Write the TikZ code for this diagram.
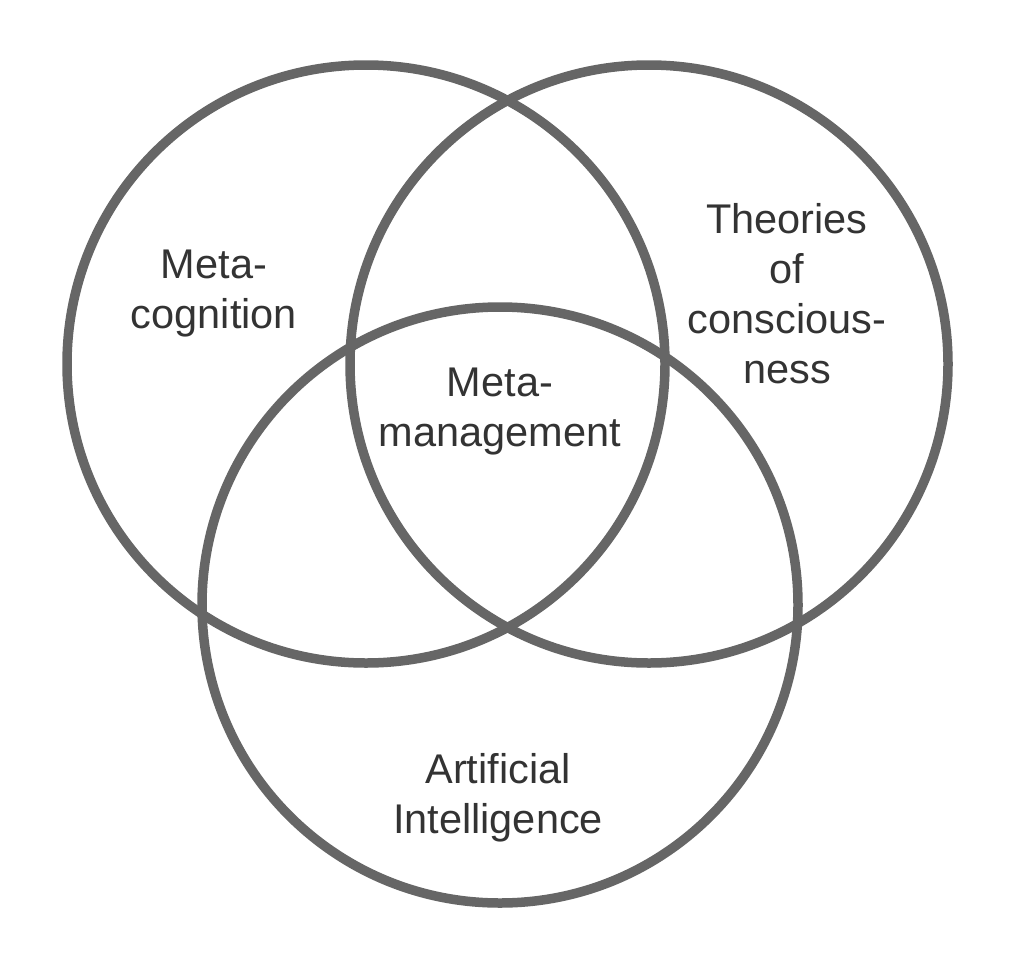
\documentclass[tikz,border=0pt]{standalone}
\usepackage{fontspec}
\setmainfont{Liberation Sans}
\definecolor{ringgray}{HTML}{666666}
\definecolor{textgray}{HTML}{333333}
\tikzset{
  ring/.style={draw=ringgray, line width=9.5pt},
  label/.style={align=center, text=textgray, font=\fontsize{41.5}{50}\selectfont, inner sep=0pt}
}
\begin{document}
\begin{tikzpicture}[x=1pt,y=-1pt]
\useasboundingbox (0,0) rectangle (1014,969);
\node[ring, circle, minimum size=598pt, inner sep=0pt] (left) at (366,364) {};
\node[ring, circle, minimum size=598pt, inner sep=0pt] (right) at (649,364) {};
\node[ring, circle, minimum size=596pt, inner sep=0pt] (bottom) at (500,605) {};
\node[label] (meta) at (214,294) {Meta-\\cognition};
\node[label] (mm) at (500,412) {Meta-\\management};
\node[label] (theo) at (787,294) {Theories\\of\\conscious-\\ness};
\node[label] (ai) at (498,797.5) {Artificial\\Intelligence};
\end{tikzpicture}
\end{document}
